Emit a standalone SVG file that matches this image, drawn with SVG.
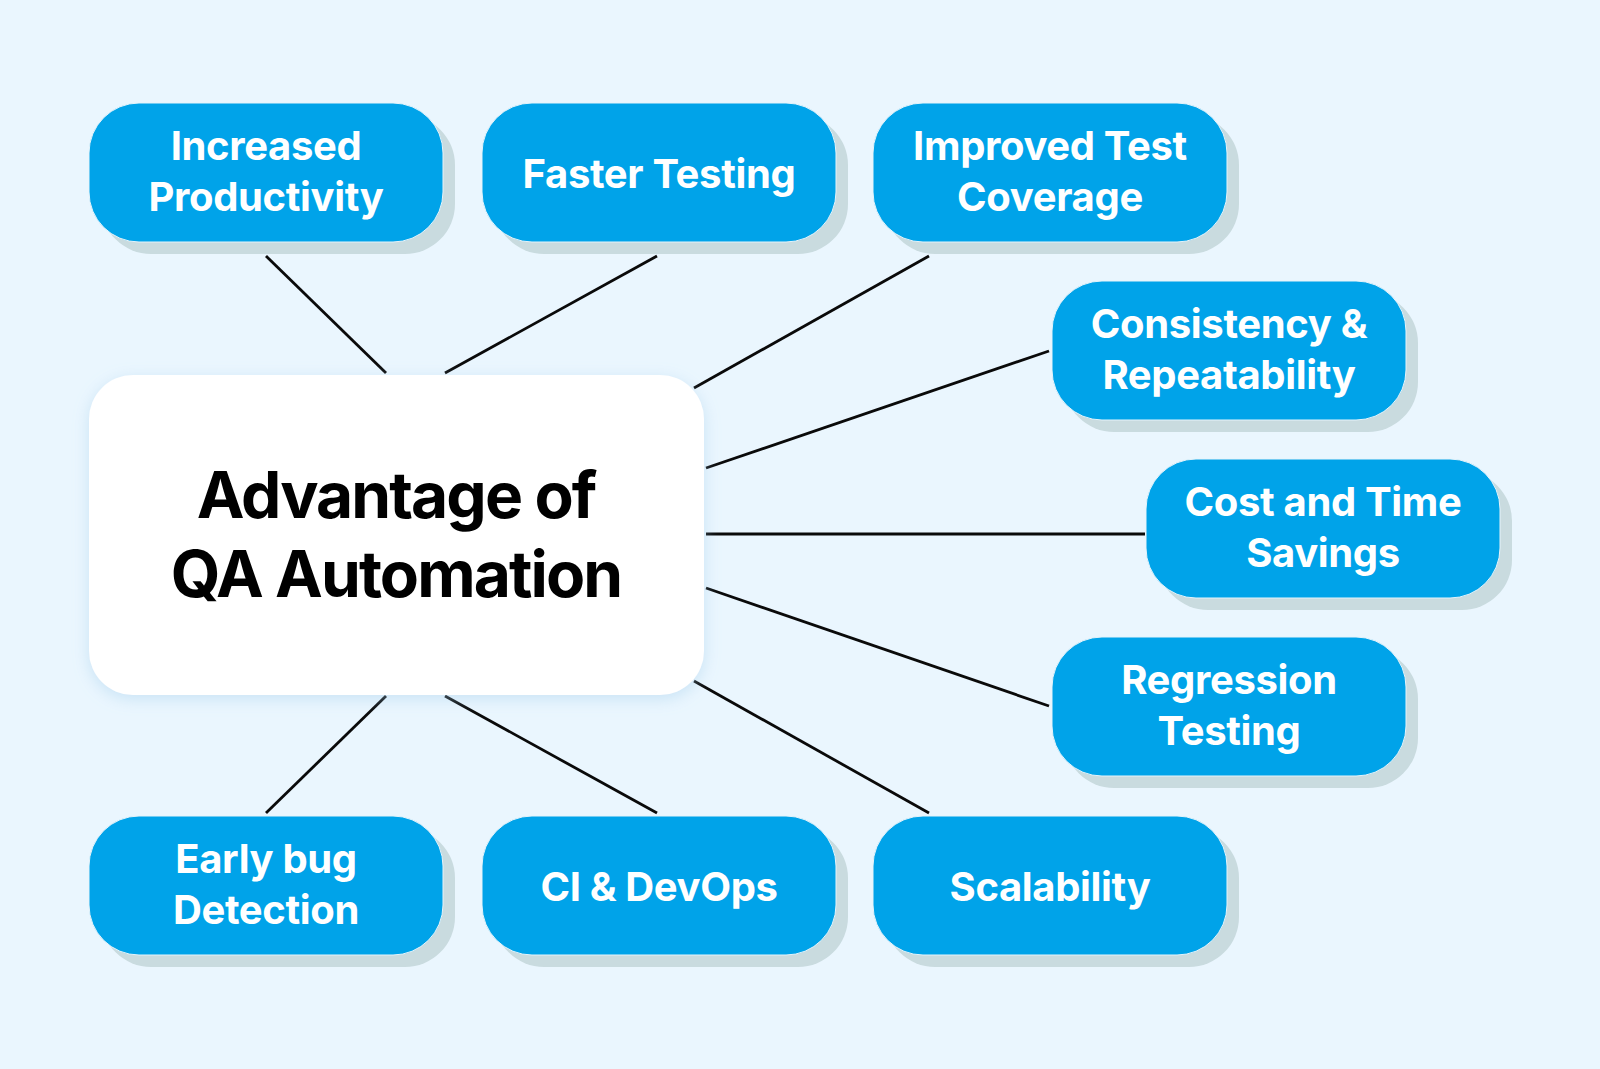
<svg xmlns="http://www.w3.org/2000/svg" width="1600" height="1069" viewBox="0 0 1600 1069">
<defs>
<style>
.shadow{fill:#c9dbdf}
.box{fill:#00a3e9;stroke:#e6f4fb;stroke-width:1}
.t{font-family:Inter,"Liberation Sans",sans-serif;font-weight:700;font-size:40px;letter-spacing:-0.35px;fill:#ffffff;text-anchor:middle}
.c{font-family:Inter,"Liberation Sans",sans-serif;font-weight:700;font-size:64px;letter-spacing:-1.9px;fill:#000000;text-anchor:middle}
.ln{stroke:#0a0a0a;stroke-width:2.8;fill:none}
</style>
<filter id="glow" x="-20%" y="-20%" width="140%" height="140%">
<feDropShadow dx="0" dy="4" stdDeviation="8" flood-color="#9fcbea" flood-opacity="0.45"/>
</filter>
</defs>
<rect width="1600" height="1069" fill="#eaf6fe"/>
<g id="connectors">
<line class="ln" x1="266" y1="256" x2="386" y2="373"/>
<line class="ln" x1="657" y1="256" x2="445" y2="373"/>
<line class="ln" x1="929" y1="256" x2="694" y2="388"/>
<line class="ln" x1="1049" y1="351" x2="706" y2="468"/>
<line class="ln" x1="706" y1="534" x2="1145" y2="534"/>
<line class="ln" x1="706" y1="588" x2="1049" y2="706"/>
<line class="ln" x1="694" y1="681" x2="929" y2="813"/>
<line class="ln" x1="445" y1="696" x2="657" y2="813"/>
<line class="ln" x1="386" y1="696" x2="266" y2="813"/>
</g>
<g id="center">
<rect x="89" y="375" width="615" height="320" rx="44" fill="#ffffff" filter="url(#glow)"/>
<text class="c" x="396" y="518">Advantage of</text>
<text class="c" x="396" y="597">QA Automation</text>
</g>
<g id="increased-productivity">
<rect class="shadow" x="101" y="115" width="354" height="139" rx="50"/>
<rect class="box" x="89" y="103" width="354" height="139" rx="50"/>
<text class="t" x="266" y="160">Increased</text>
<text class="t" x="266" y="211">Productivity</text>
</g>
<g id="faster-testing">
<rect class="shadow" x="494" y="115" width="354" height="139" rx="50"/>
<rect class="box" x="482" y="103" width="354" height="139" rx="50"/>
<text class="t" x="659" y="188">Faster Testing</text>
</g>
<g id="improved-test-coverage">
<rect class="shadow" x="885" y="115" width="354" height="139" rx="50"/>
<rect class="box" x="873" y="103" width="354" height="139" rx="50"/>
<text class="t" x="1050" y="160">Improved Test</text>
<text class="t" x="1050" y="211">Coverage</text>
</g>
<g id="consistency">
<rect class="shadow" x="1064" y="293" width="354" height="139" rx="50"/>
<rect class="box" x="1052" y="281" width="354" height="139" rx="50"/>
<text class="t" x="1229" y="338">Consistency &amp;</text>
<text class="t" x="1229" y="389">Repeatability</text>
</g>
<g id="cost-time">
<rect class="shadow" x="1158" y="471" width="354" height="139" rx="50"/>
<rect class="box" x="1146" y="459" width="354" height="139" rx="50"/>
<text class="t" x="1323" y="516">Cost and Time</text>
<text class="t" x="1323" y="567">Savings</text>
</g>
<g id="regression">
<rect class="shadow" x="1064" y="649" width="354" height="139" rx="50"/>
<rect class="box" x="1052" y="637" width="354" height="139" rx="50"/>
<text class="t" x="1229" y="694">Regression</text>
<text class="t" x="1229" y="745">Testing</text>
</g>
<g id="early-bug">
<rect class="shadow" x="101" y="828" width="354" height="139" rx="50"/>
<rect class="box" x="89" y="816" width="354" height="139" rx="50"/>
<text class="t" x="266" y="873">Early bug</text>
<text class="t" x="266" y="924">Detection</text>
</g>
<g id="ci-devops">
<rect class="shadow" x="494" y="828" width="354" height="139" rx="50"/>
<rect class="box" x="482" y="816" width="354" height="139" rx="50"/>
<text class="t" x="659" y="901">CI &amp; DevOps</text>
</g>
<g id="scalability">
<rect class="shadow" x="885" y="828" width="354" height="139" rx="50"/>
<rect class="box" x="873" y="816" width="354" height="139" rx="50"/>
<text class="t" x="1050" y="901">Scalability</text>
</g>
</svg>
